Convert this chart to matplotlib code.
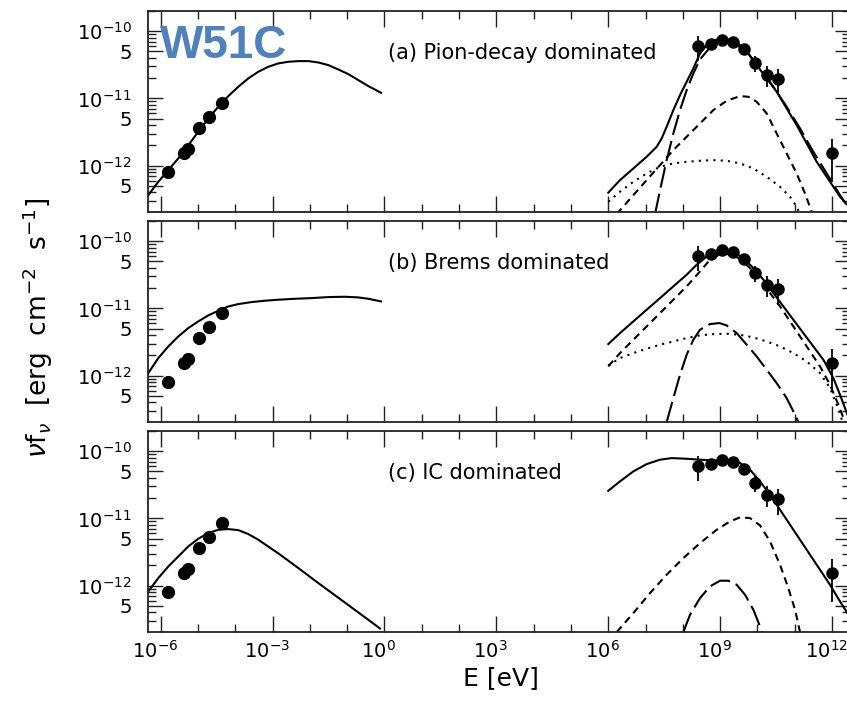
import numpy as np
import matplotlib
matplotlib.use("Agg")
import matplotlib.pyplot as plt
import matplotlib.transforms as mtransforms
from matplotlib.ticker import FixedLocator, FixedFormatter, NullFormatter

plt.rcParams['mathtext.fontset'] = 'dejavusans'
plt.rcParams['font.family'] = ['DejaVu Sans']

# ---------------- data (log10 E [eV], log10 nuF_nu [erg cm^-2 s^-1]) ----------------
radio_logE = np.array([-5.795, -5.366, -5.259, -4.964, -4.696, -4.357])
radio_logF = np.array([-12.100, -11.808, -11.758, -11.446, -11.273, -11.075])
radio_err_frac = np.array([0.12, 0.10, 0.10, 0.18, 0.10, 0.08])

gamma_logE = np.array([8.414, 8.754, 9.058, 9.353, 9.648, 9.933, 10.246, 10.559, 12.007])
gamma_logF = np.array([-10.226, -10.188, -10.127, -10.166, -10.267, -10.473, -10.646, -10.716, -11.816])
gamma_err = np.array([2.4e-11, 1.2e-11, 0.8e-11, 0.8e-11, 0.9e-11, 0.9e-11, 0.8e-11, 0.8e-11, 0.95e-12])

# Panel (a) Pion-decay dominated
a_sync_E = [-6.332, -6.064, -5.795, -5.527, -5.259, -4.991, -4.723, -4.455, -4.187, -3.919, -3.651,
            -3.383, -3.114, -2.846, -2.578, -2.310, -2.042, -1.774, -1.506, -1.238, -0.970, -0.702,
            -0.433, -0.094]
a_sync_F = [-12.437, -12.239, -12.065, -11.892, -11.694, -11.496, -11.298, -11.124, -10.966, -10.827,
            -10.703, -10.604, -10.530, -10.480, -10.456, -10.446, -10.446, -10.466, -10.505, -10.570,
            -10.639, -10.728, -10.817, -10.916]
a_tot_E = [6.0, 6.314, 6.672, 7.029, 7.297, 7.431, 7.565, 7.744, 7.923, 8.101, 8.280, 8.459, 8.638,
           8.816, 9.040, 9.308, 9.531, 9.755, 9.978, 10.246, 10.514, 10.782, 11.050, 11.319, 11.587,
           11.855, 12.212, 12.48]
a_tot_F = [-12.40, -12.214, -12.041, -11.867, -11.719, -11.595, -11.421, -11.174, -10.951, -10.753,
           -10.555, -10.332, -10.208, -10.144, -10.109, -10.134, -10.208, -10.332, -10.505, -10.703,
           -10.901, -11.149, -11.397, -11.669, -11.942, -12.164, -12.462, -12.62]
a_brems_E = [6.225, 6.672, 7.029, 7.387, 7.744, 8.101, 8.459, 8.816, 9.174, 9.531, 9.755, 9.978,
             10.246, 10.514, 10.782, 11.050, 11.274, 11.453]
a_brems_F = [-12.719, -12.437, -12.214, -11.991, -11.768, -11.570, -11.372, -11.174, -11.035, -10.966,
             -10.976, -11.050, -11.223, -11.521, -11.818, -12.115, -12.412, -12.685]
a_ic_E = [6.0, 6.314, 6.672, 7.029, 7.387, 7.744, 8.101, 8.459, 8.816, 9.174, 9.531, 9.889, 10.246,
          10.604, 10.872, 11.051, 11.140]
a_ic_F = [-12.536, -12.387, -12.239, -12.115, -12.016, -11.966, -11.942, -11.927, -11.917, -11.927,
          -11.966, -12.041, -12.164, -12.313, -12.462, -12.610, -12.719]
a_pion_E = [7.253, 7.387, 7.565, 7.744, 7.923, 8.101, 8.280, 8.459, 8.727, 9.040, 9.353, 9.710,
            10.068, 10.425, 10.782, 11.140, 11.497, 11.855, 12.212, 12.48]
a_pion_F = [-12.719, -12.363, -11.917, -11.521, -11.174, -10.877, -10.629, -10.421, -10.243, -10.159,
            -10.173, -10.307, -10.555, -10.827, -11.124, -11.446, -11.793, -12.115, -12.437, -12.66]

# Panel (b) Brems dominated
b_sync_E = [-6.332, -6.064, -5.795, -5.527, -5.259, -4.991, -4.723, -4.455, -4.187, -3.919, -3.561,
            -3.204, -2.846, -2.399, -1.953, -1.506, -1.059, -0.702, -0.433, -0.094]
b_sync_F = [-11.961, -11.738, -11.565, -11.416, -11.292, -11.193, -11.104, -11.035, -10.971, -10.936,
            -10.906, -10.886, -10.871, -10.857, -10.847, -10.832, -10.827, -10.837, -10.857, -10.896]
b_tot_E = [6.0, 6.314, 6.672, 7.029, 7.387, 7.744, 8.101, 8.370, 8.638, 8.906, 9.129, 9.353, 9.621,
           9.889, 10.157, 10.425, 10.693, 10.961, 11.229, 11.497, 11.766, 12.034, 12.212, 12.48]
b_tot_F = [-11.53, -11.367, -11.193, -11.020, -10.847, -10.673, -10.500, -10.351, -10.228, -10.153,
           -10.138, -10.163, -10.252, -10.401, -10.574, -10.772, -10.970, -11.169, -11.367, -11.565,
           -11.763, -12.036, -12.283, -12.68]
b_brems_E = [6.0, 6.314, 6.672, 7.029, 7.387, 7.744, 8.101, 8.459, 8.727, 8.995, 9.263, 9.531, 9.799,
             10.068, 10.336, 10.604, 10.872, 11.140, 11.408, 11.676, 11.944, 12.168, 12.346]
b_brems_F = [-11.86, -11.664, -11.466, -11.268, -11.070, -10.871, -10.673, -10.450, -10.277, -10.193,
             -10.193, -10.262, -10.401, -10.574, -10.772, -10.970, -11.193, -11.416, -11.639, -11.862,
             -12.134, -12.432, -12.689]
b_ic_E = [6.0, 6.314, 6.672, 7.029, 7.387, 7.744, 8.101, 8.459, 8.816, 9.174, 9.531, 9.889, 10.246,
          10.604, 10.961, 11.319, 11.676, 11.944, 12.123, 12.284]
b_ic_F = [-11.85, -11.738, -11.664, -11.599, -11.540, -11.491, -11.441, -11.401, -11.382, -11.377,
          -11.392, -11.431, -11.491, -11.565, -11.664, -11.788, -11.961, -12.184, -12.432, -12.689]
b_pion_E = [7.565, 7.744, 7.923, 8.101, 8.280, 8.459, 8.727, 8.977, 9.174, 9.442, 9.710, 9.978,
            10.246, 10.514, 10.782, 11.006, 11.095]
b_pion_F = [-12.689, -12.333, -11.986, -11.689, -11.466, -11.317, -11.233, -11.218, -11.253, -11.367,
            -11.540, -11.714, -11.912, -12.110, -12.333, -12.580, -12.689]

# Panel (c) IC dominated
c_sync_E = [-6.332, -6.064, -5.795, -5.527, -5.259, -4.991, -4.723, -4.455, -4.187, -3.919, -3.651,
            -3.383, -2.846, -2.310, -1.774, -1.238, -0.702, -0.121]
c_sync_F = [-12.085, -11.887, -11.714, -11.565, -11.416, -11.302, -11.218, -11.169, -11.159, -11.174,
            -11.233, -11.317, -11.520, -11.738, -11.961, -12.179, -12.397, -12.635]
c_tot_E = [6.0, 6.314, 6.672, 7.029, 7.387, 7.699, 8.101, 8.459, 8.816, 9.174, 9.531, 9.799, 10.068,
           10.336, 10.604, 10.872, 11.140, 11.408, 11.676, 11.944, 12.168, 12.48]
c_tot_F = [-10.59, -10.450, -10.302, -10.193, -10.128, -10.104, -10.114, -10.128, -10.138, -10.138,
           -10.178, -10.277, -10.450, -10.649, -10.871, -11.094, -11.317, -11.540, -11.763, -11.986,
           -12.194, -12.47]
c_brems_E = [6.225, 6.672, 7.118, 7.565, 8.012, 8.459, 8.906, 9.263, 9.531, 9.799, 10.068, 10.336,
             10.604, 10.827, 11.006, 11.140]
c_brems_F = [-12.689, -12.407, -12.110, -11.837, -11.590, -11.367, -11.169, -11.045, -10.985, -10.995,
             -11.104, -11.342, -11.689, -12.036, -12.357, -12.689]
c_pion_E = [8.012, 8.191, 8.459, 8.727, 8.995, 9.219, 9.442, 9.665, 9.889, 10.050, 10.112]
c_pion_F = [-12.689, -12.432, -12.184, -12.011, -11.926, -11.926, -11.986, -12.134, -12.357, -12.580,
            -12.689]

panel_titles = ["(a) Pion-decay dominated", "(b) Brems dominated", "(c) IC dominated"]
panels = [
    dict(sync=(a_sync_E, a_sync_F), tot=(a_tot_E, a_tot_F), brems=(a_brems_E, a_brems_F),
         ic=(a_ic_E, a_ic_F), pion=(a_pion_E, a_pion_F)),
    dict(sync=(b_sync_E, b_sync_F), tot=(b_tot_E, b_tot_F), brems=(b_brems_E, b_brems_F),
         ic=(b_ic_E, b_ic_F), pion=(b_pion_E, b_pion_F)),
    dict(sync=(c_sync_E, c_sync_F), tot=(c_tot_E, c_tot_F), brems=(c_brems_E, c_brems_F),
         ic=None, pion=(c_pion_E, c_pion_F)),
]

xtick_exps = [-6, -3, 0, 3, 6, 9, 12]
ytick_vals = [5e-13, 1e-12, 5e-12, 1e-11, 5e-11, 1e-10]
ytick_labels = ["5", r"$10^{-12}$", "5", r"$10^{-11}$", "5", r"$10^{-10}$"]

# ---------------- figure ----------------
W, H = 847, 701
fig = plt.figure(figsize=(W / 100, H / 100), dpi=100)

left_px, right_px = 148.3, 850.0
tops_px = [10.7, 220.7, 430.7]
ph = 201.3

xlim = (10 ** -6.332, 10 ** 12.48)
ylim = (10 ** -12.688, 10 ** -9.697)

def P(E, F):
    return 10 ** np.asarray(E), 10 ** np.asarray(F)

lw = 1.5
black = 'black'
for i, (pan, title) in enumerate(zip(panels, panel_titles)):
    top = tops_px[i]
    ax = fig.add_axes([left_px / W, 1 - (top + ph) / H, (right_px - left_px) / W, ph / H])
    ax.set_xscale('log')
    ax.set_yscale('log')
    ax.set_xlim(*xlim)
    ax.set_ylim(*ylim)

    x, y = P(*pan['sync'])
    ax.plot(x, y, color=black, lw=lw)
    x, y = P(*pan['tot'])
    ax.plot(x, y, color=black, lw=lw)
    x, y = P(*pan['brems'])
    ax.plot(x, y, color=black, lw=lw, linestyle=(0, (3.5, 2.5)))
    if pan['ic'] is not None:
        x, y = P(*pan['ic'])
        ax.plot(x, y, color=black, lw=lw, linestyle=(0, (1.0, 2.5)))
    x, y = P(*pan['pion'])
    ax.plot(x, y, color=black, lw=lw, linestyle=(0, (10, 3)))

    # data points
    rx, ry = P(radio_logE, radio_logF)
    ax.errorbar(rx, ry, yerr=ry * radio_err_frac, fmt='o', color=black, ms=8.5,
                elinewidth=1.2, capsize=0, zorder=5)
    gx, gy = P(gamma_logE, gamma_logF)
    ax.errorbar(gx, gy, yerr=gamma_err, fmt='o', color=black, ms=8,
                elinewidth=1.3, capsize=0, zorder=5)

    # ticks
    ax.xaxis.set_major_locator(FixedLocator([10.0 ** e for e in xtick_exps]))
    ax.xaxis.set_minor_locator(FixedLocator([10.0 ** e for e in range(-7, 14)]))
    ax.yaxis.set_major_locator(FixedLocator(ytick_vals))
    yminor = [m * 10.0 ** e for e in range(-14, -9) for m in (2, 3, 4, 6, 7, 8, 9)]
    ax.yaxis.set_minor_locator(FixedLocator(yminor))
    ax.yaxis.set_major_formatter(FixedFormatter(ytick_labels))
    ax.yaxis.set_minor_formatter(NullFormatter())
    ax.xaxis.set_minor_formatter(NullFormatter())
    if i == 2:
        ax.xaxis.set_major_formatter(FixedFormatter([r"$10^{%d}$" % e for e in xtick_exps]))
    else:
        ax.xaxis.set_major_formatter(NullFormatter())
    ax.tick_params(which='both', direction='in', top=True, right=True, colors='#222222',
                   labelcolor='black', width=1.0)
    ax.tick_params(axis='x', which='major', length=11.5, pad=6, labelsize=14)
    ax.tick_params(axis='x', which='minor', length=5.5)
    ax.tick_params(axis='y', which='major', length=11, pad=12, labelsize=14)
    ax.tick_params(axis='y', which='minor', length=5.5)
    for s in ax.spines.values():
        s.set_linewidth(1.3)
        s.set_color('#222222')

    if i == 2:
        offset = mtransforms.ScaledTranslation(-6 / 100, 0, fig.dpi_scale_trans)
        for lab in ax.xaxis.get_majorticklabels():
            lab.set_transform(lab.get_transform() + offset)

    ax.text((388 - left_px) / (right_px - left_px), 0.79, title, transform=ax.transAxes,
            fontsize=15, va='center', ha='left')

fig.text(501 / W, 1 - 678 / H, "E [eV]", fontsize=18, ha='center', va='center')
fig.text(38 / W, 1 - 328 / H, r"$\nu$f$_\nu$  [erg  cm$^{-2}$  s$^{-1}$]", fontsize=19,
         rotation=90, ha='center', va='center')

fig.text(160 / W, 1 - 58.5 / H, "W51C", fontsize=33, fontweight='bold',
         family=['Liberation Sans', 'DejaVu Sans'], color='#4f81bd', ha='left', va='baseline')

fig.savefig("out.png", dpi=100)
